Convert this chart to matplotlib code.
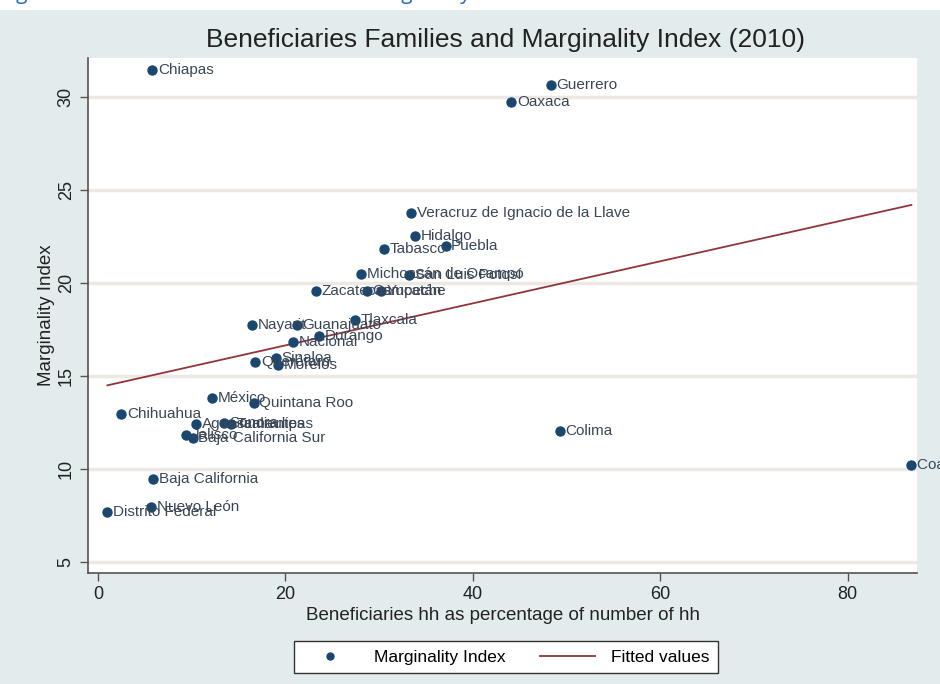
import numpy as np
import matplotlib
matplotlib.use('Agg')
import matplotlib.pyplot as plt
from matplotlib.patches import Rectangle
from matplotlib.lines import Line2D

plt.rcParams['font.family'] = ['Liberation Sans Narrow', 'Liberation Sans', 'DejaVu Sans']

# --- data ---
states = [
    'Chiapas', 'Guerrero', 'Oaxaca', 'Veracruz de Ignacio de la Llave', 'Hidalgo',
    'Puebla', 'Tabasco', 'Michoacán de Ocampo', 'San Luis Potosí', 'Zacatecas',
    'Campeche', 'Yucatán', 'Nayarit', 'Guanajuato', 'Tlaxcala', 'Durango',
    'Nacional', 'Querétaro', 'Sinaloa', 'Morelos', 'México', 'Quintana Roo',
    'Chihuahua', 'Aguascalientes', 'Sonora', 'Tamaulipas', 'Jalisco',
    'Baja California Sur', 'Colima', 'Baja California', 'Nuevo León',
    'Distrito Federal', 'Coahuila de Zaragoza',
]
benef_pct = [
    5.8, 48.3, 44.1, 33.4, 33.8,
    37.1, 30.5, 28.1, 33.2, 23.3,
    28.7, 30.2, 16.4, 21.2, 27.4, 23.6,
    20.8, 16.8, 19.0, 19.2, 12.2, 16.6,
    2.5, 10.5, 13.4, 14.2, 9.4,
    10.1, 49.3, 5.9, 5.7,
    1.0, 86.8,
]
marg_index = [
    31.45, 30.65, 29.73, 23.76, 22.53,
    21.99, 21.83, 20.48, 20.43, 19.57,
    19.57, 19.57, 17.74, 17.74, 18.0, 17.15,
    16.83, 15.75, 15.97, 15.6, 13.8, 13.55,
    12.96, 12.42, 12.45, 12.4, 11.83,
    11.67, 12.04, 9.46, 7.96,
    7.69, 10.2,
]
# fitted line end points (linear fit over data range)
fit_x = [1.0, 86.8]
fit_y = [14.5, 24.2]

navy = '#1a476f'
maroon = '#90353b'
region_bg = '#e3ecec'

fig = plt.figure(figsize=(9.4, 6.84), dpi=100)
fig.patch.set_facecolor('white')
fig.patches.append(Rectangle((0, 0), 1, 1 - 10 / 684, transform=fig.transFigure,
                             facecolor=region_bg, edgecolor='none', zorder=-10))

# caption of the page, cut off at the top (only descenders show)
fig.text(0.0, 1 + 1 / 684, 'Figure 4.4: Beneficiaries Families and Marginality Index',
         color='#2a6ebb', fontsize=15, va='baseline', ha='left',
         family=['Open Sans', 'DejaVu Sans'])

ax = fig.add_axes([88 / 940, 111 / 684, (917 - 88) / 940, (573 - 58) / 684])
ax.set_facecolor('white')

ax.set_xlim(-1.07, 87.4)
ax.set_ylim(4.41, 32.1)
ax.set_xticks([0, 20, 40, 60, 80])
ax.set_yticks([5, 10, 15, 20, 25, 30])
ax.yaxis.grid(True, color='#ece9e4', lw=2.5)
ax.set_axisbelow(True)

for s in ['top', 'right']:
    ax.spines[s].set_visible(False)
for s in ['left', 'bottom']:
    ax.spines[s].set_color('#5a5050')
    ax.spines[s].set_linewidth(1.2)
ax.tick_params(colors='#5a5050', labelcolor='#222222', labelsize=13, length=6, width=1)
plt.setp(ax.get_yticklabels(), rotation=90, va='center')

ax.plot(fit_x, fit_y, color=maroon, lw=1.3, zorder=2)
ax.scatter(benef_pct, marg_index, s=42, color=navy, zorder=3, clip_on=False)
for name, x, y in zip(states, benef_pct, marg_index):
    ax.annotate(name, (x, y), xytext=(4, 0), textcoords='offset points',
                va='center', ha='left', fontsize=11, color='#3a4656',
                annotation_clip=False, zorder=4)

ax.set_xlabel('Beneficiaries hh as percentage of number of hh', fontsize=13.5, color='#222222', labelpad=3)
ax.set_ylabel('Marginality Index', fontsize=13.5, color='#222222', labelpad=2)
fig.text(505 / 940, 1 - 40 / 684, 'Beneficiaries Families and Marginality Index (2010)',
         ha='center', va='center', fontsize=19, color='#222222')

handles = [
    Line2D([], [], marker='o', color=navy, linestyle='none', markersize=5),
    Line2D([], [], color=maroon, lw=1.3),
]
leg = fig.legend(handles, ['Marginality Index', 'Fitted values'], ncol=2,
                 loc='center', bbox_to_anchor=(506 / 940, 1 - 657 / 684),
                 fontsize=12.5, frameon=True, fancybox=False, handlelength=3.2,
                 columnspacing=2.0, borderpad=0.5, handletextpad=0.9, framealpha=1)
leg.get_frame().set_facecolor('white')
leg.get_frame().set_edgecolor('#333333')
leg.get_frame().set_linewidth(1.0)

fig.savefig('out.png', dpi=100)
